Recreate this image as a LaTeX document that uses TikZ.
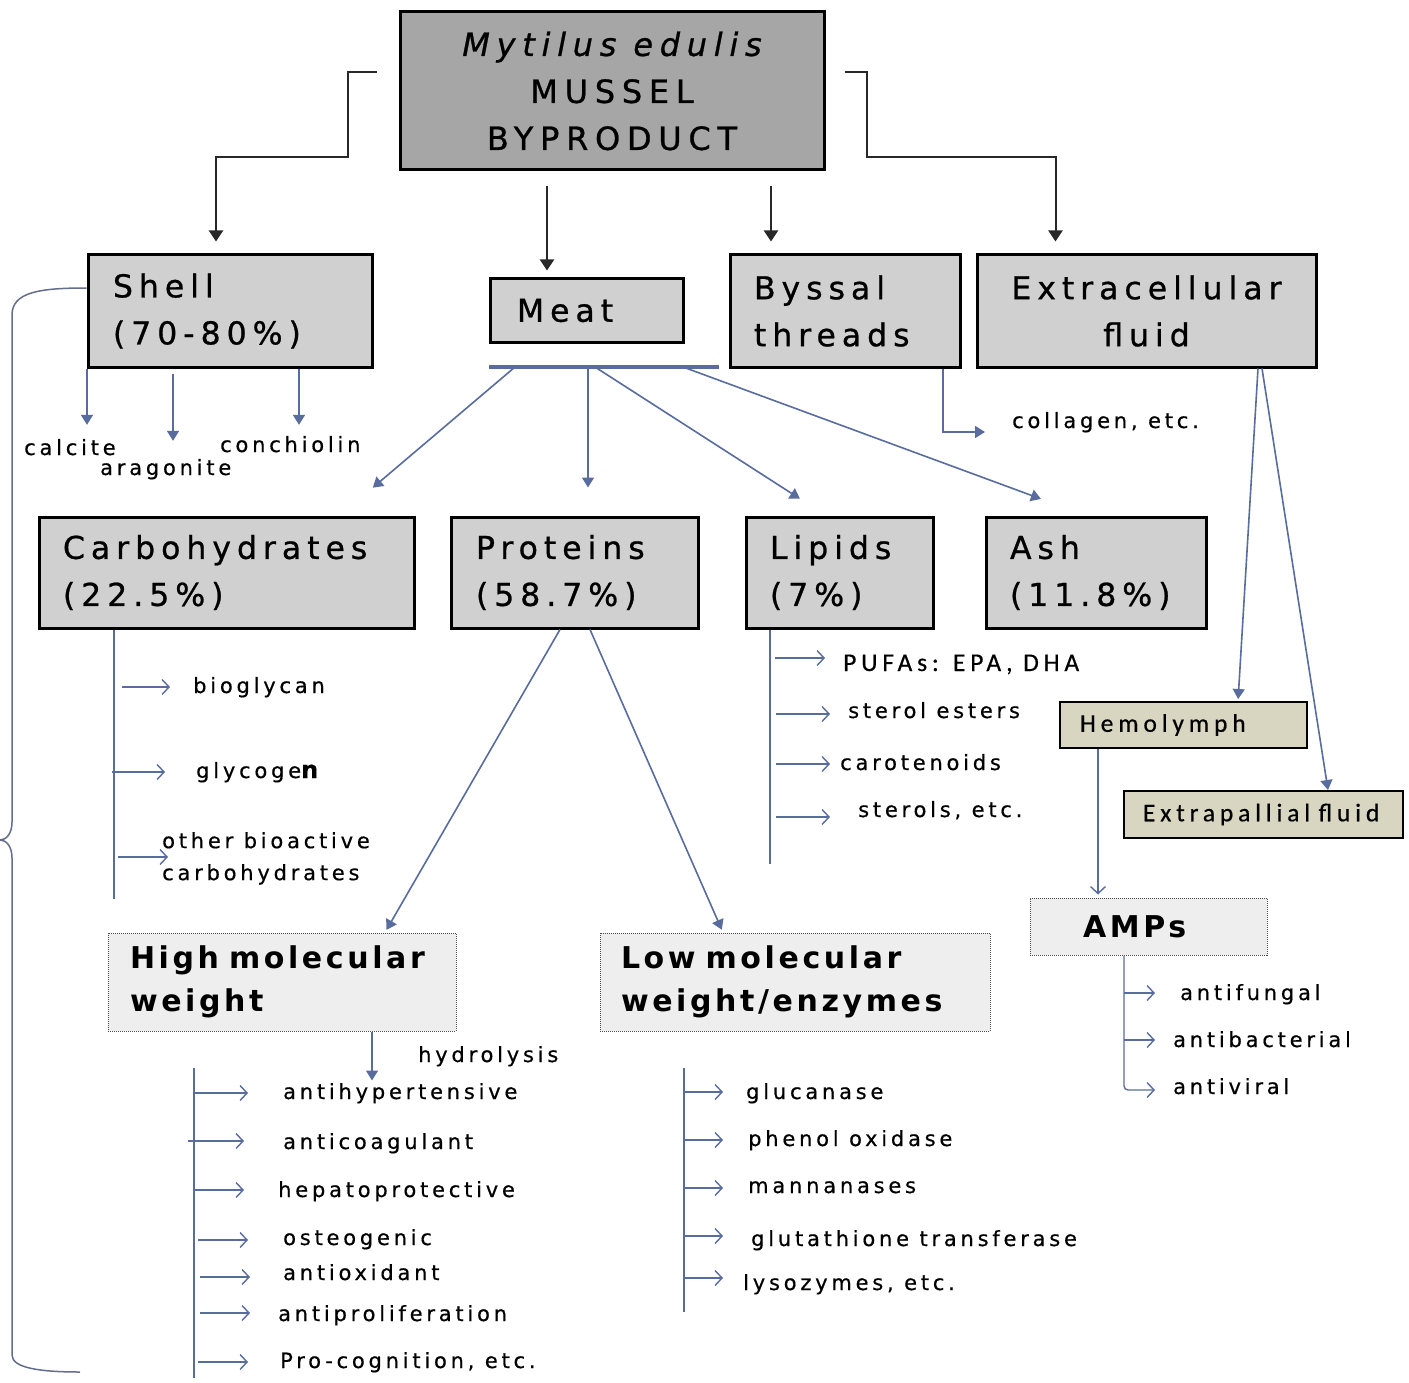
\documentclass[tikz,border=0pt]{standalone}
\usepackage{fontspec}
\setmainfont{DejaVu Sans}
\newfontfamily\ftop{DejaVu Sans}[LetterSpace=21,FakeBold=0.8]
\newfontfamily\ftitle{DejaVu Sans}[LetterSpace=19,FakeBold=0.8]
\newfontfamily\fitem{DejaVu Sans}[LetterSpace=18,FakeBold=0.5]
\newfontfamily\fbold{DejaVu Sans}[LetterSpace=12]
\newfontfamily\fcal{Carlito}[LetterSpace=19,FakeBold=0.5]
\usetikzlibrary{arrows.meta}

\definecolor{topgray}{RGB}{166,166,166}
\definecolor{boxgray}{RGB}{208,208,208}
\definecolor{khaki}{RGB}{216,214,192}
\definecolor{palegray}{RGB}{238,238,238}
\definecolor{linkblue}{RGB}{88,108,158}
\definecolor{darkline}{RGB}{40,40,40}
\definecolor{bracecol}{RGB}{100,110,140}

\newcommand\nobreakwords{\hyphenpenalty=10000 \exhyphenpenalty=10000 }
% short arrow from a list spine to an item label
\newcommand\itemarrow[4]{\draw[larr] ([xshift=#2pt,yshift=#4pt]#1.base west) -- ([xshift=#3pt,yshift=#4pt]#1.base west);}

\tikzset{
  every node/.style={inner sep=0pt},
  titlebox/.style={draw=black, line width=3pt, fill=boxgray, inner ysep=0pt,
    font={\ftitle\fontsize{31.5}{47}\selectfont\nobreakwords}},
  dotbox/.style={draw=black!70, line width=1pt, densely dotted, fill=palegray, inner ysep=0pt,
    font={\fbold\bfseries\fontsize{30}{43}\selectfont\nobreakwords}},
  fluidbox/.style={draw=black, line width=2pt, fill=khaki, inner ysep=0pt,
    font={\fcal\fontsize{25.5}{28}\selectfont\nobreakwords}},
  item/.style={anchor=base west, font={\fitem\fontsize{21}{32}\selectfont}},
  barrow/.style={draw=darkline, line width=2pt, -{Triangle[length=11pt,width=14pt]}},
  farr/.style={draw=linkblue, line width=1.6pt, -{Triangle[length=10pt,width=12pt]}},
  larr/.style={draw=linkblue, line width=1.4pt, -{Straight Barb[length=7pt,width=15pt]}},
  spine/.style={draw=linkblue, line width=1.6pt},
}

\begin{document}
\begin{tikzpicture}[x=1pt,y=-1pt]
\fill[white] (0,0) rectangle (1409,1383);
\useasboundingbox (0,0) rectangle (1409,1383);

% ---------- main boxes ----------
\node[titlebox, fill=topgray, minimum width=424pt, minimum height=158pt, align=center,
      font={\ftop\fontsize{32}{47}\selectfont}] (top) at (612,91)
      {{\itshape Mytilus edulis}\\MUSSEL\\BYPRODUCT};

\node[titlebox, minimum height=112pt, text width=234pt, inner xsep=25pt, align=left] (shell) at (230,311) {Shell\\(70-80\%)};
\node[titlebox, minimum height=63pt, text width=139pt, inner xsep=27pt, align=left] (meat) at (586.5,310.5) {Meat};
\node[titlebox, minimum height=112pt, text width=182pt, inner xsep=24pt, align=left] (byssal) at (845,311) {Byssal\\threads};
\node[titlebox, minimum height=112pt, minimum width=339pt, align=center] (extra) at (1146.5,311) {Extracellular\\fluid};

\node[titlebox, minimum height=111pt, text width=327pt, inner xsep=24pt, align=left] (carb) at (226.5,572.5) {Carbohydrates\\(22.5\%)};
\node[titlebox, minimum height=111pt, text width=197pt, inner xsep=25pt, align=left] (prot) at (574.5,572.5) {Proteins\\(58.7\%)};
\node[titlebox, minimum height=111pt, text width=139pt, inner xsep=24pt, align=left] (lip) at (839.5,572.5) {Lipids\\(7\%)};
\node[titlebox, minimum height=111pt, text width=172pt, inner xsep=24pt, align=left] (ash) at (1096,572.5) {Ash\\(11.8\%)};

\node[dotbox, minimum height=98pt, text width=304pt, inner xsep=22pt, align=left] (hmw) at (282,982) {High molecular\\weight};
\node[dotbox, minimum height=98pt, text width=348pt, inner xsep=21pt, align=left] (lmw) at (795,982) {Low molecular\\weight/enzymes};
\node[dotbox, minimum height=57pt, text width=131pt, inner xsep=53pt, align=left] (amps) at (1148.5,926.5) {AMPs};

\node[fluidbox, minimum height=46pt, text width=207pt, inner xsep=20pt, align=left] (hemo) at (1183.5,725) {Hemolymph};
\node[fluidbox, minimum height=47pt, text width=241pt, inner xsep=19pt, align=left] (extrap) at (1263.5,814.5) {\mbox{Extrapallial\ fluid}};

% ---------- black links from the byproduct ----------
\draw[barrow, shorten >=12pt] ([xshift=-22pt,yshift=19pt]top.west) -- ++(-29,0) -- ++(0,85) -| ([xshift=-14pt]shell.north);
\draw[barrow, shorten >=12pt] ([xshift=19pt,yshift=19pt]top.east) -- ++(22,0) -- ++(0,85) -| ([xshift=-91pt]extra.north);
\draw[barrow, shorten <=15pt, shorten >=7pt] ([xshift=-65pt]top.south) -- ([xshift=-39.5pt]meat.north);
\draw[barrow, shorten <=15pt, shorten >=12pt] ([xshift=159pt]top.south) -- ([xshift=-74pt]byssal.north);

% ---------- shell components ----------
\node[item] (calcite) at (24,455) {calcite};
\node[item] (aragonite) at (100,475) {aragonite};
\node[item] (conchiolin) at (220,452) {conchiolin};
\draw[farr, shorten >=14pt] ([xshift=-143pt]shell.south) -- ([xshift=-143pt]shell.south |- calcite.north);
\draw[farr, shorten <=5pt, shorten >=18pt] ([xshift=-57pt]shell.south) -- ([xshift=-57pt]shell.south |- aragonite.north);
\draw[farr, shorten >=11pt] ([xshift=69pt]shell.south) -- ([xshift=69pt]shell.south |- conchiolin.north);

% bracket grouping everything under the shell
\draw[draw=bracecol, line width=1.5pt] ([yshift=23pt]shell.west)
  .. controls (40,288) and (12,292) .. (12,315) -- (12,822)
  .. controls (12,834) and (6,840) .. (0,840)
  .. controls (6,840) and (12,846) .. (12,858) -- (12,1355)
  .. controls (12,1368) and (40,1372) .. (80,1372);

% ---------- byssal threads ----------
\node[item] (collagen) at (1012,428) {collagen, etc.};
\draw[farr, shorten >=27pt] ([xshift=98pt]byssal.south) |- ([yshift=-4pt]collagen.base west);

% ---------- meat fractions ----------
\coordinate (barL) at (489,367);
\coordinate (barR) at (719,367);
\draw[draw=linkblue, line width=3.5pt] (barL) -- (barR);
\coordinate (bA) at (515,367);
\coordinate (bB) at (588,367);
\coordinate (bC) at (595,367);
\coordinate (bD) at (683,367);
\draw[farr, shorten >=43pt] (bA) -- ([xshift=113.5pt]carb.north);
\draw[farr, shorten >=28pt] (bB) -- ([xshift=13.5pt]prot.north);
\draw[farr, shorten >=31pt] (bC) -- ([xshift=-13.5pt]lip.north);
\draw[farr, shorten >=48pt] (bD) -- ([xshift=-10pt]ash.north);

% carbohydrates
\draw[spine] ([xshift=-112.5pt]carb.south) -- ++(0,269);
\node[item] (bioglycan) at (193,693) {bioglycan};
\node[item] (glycogen) at (196,778) {glycoge{\fontsize{24}{32}\selectfont\bfseries n}};
\node[item, anchor=north west, align=left] (otherbio) at (162,832) {other bioactive\\carbohydrates};
\itemarrow{bioglycan}{-71}{-23}{6}
\itemarrow{glycogen}{-84}{-31}{6}
\draw[larr] ([xshift=-44pt,yshift=-25pt]otherbio.north west) -- ([xshift=6pt,yshift=-25pt]otherbio.north west);

% lipids
\draw[spine] ([xshift=-69.5pt]lip.south) -- ++(0,234);
\node[item, font={\fcal\fontsize{25.5}{28}\selectfont}] (pufa) at (843,671) {PUFAs: EPA, DHA};
\node[item] (sterolest) at (848,718) {sterol esters};
\node[item] (carot) at (840,770) {carotenoids};
\node[item] (sterols) at (858,817) {sterols, etc.};
\itemarrow{pufa}{-68}{-18}{13}
\itemarrow{sterolest}{-72}{-18}{4}
\itemarrow{carot}{-64}{-10}{6}
\itemarrow{sterols}{-82}{-28}{0}

% proteins
\draw[farr, shorten >=3pt] ([xshift=-14.5pt]prot.south) -- ([xshift=103pt]hmw.north);
\draw[farr, shorten >=3pt] ([xshift=15.5pt]prot.south) -- ([xshift=-72pt]lmw.north);

% high molecular weight
\draw[farr] ([xshift=90pt]hmw.south) -- ++(0,49);
\node[item] (hydro) at (418,1062) {hydrolysis};
\draw[spine] (194,1068) -- (194,1378);
\node[item] (h1) at (283,1099) {antihypertensive};
\node[item] (h2) at (283,1149) {anticoagulant};
\node[item] (h3) at (278,1197) {hepatoprotective};
\node[item] (h4) at (283,1245) {osteogenic};
\node[item] (h5) at (283,1280) {antioxidant};
\node[item] (h6) at (278,1321) {antiproliferation};
\node[item] (h7) at (280,1368) {Pro-cognition, etc.};
\itemarrow{h1}{-89}{-35}{6}
\itemarrow{h2}{-95}{-39}{8}
\itemarrow{h3}{-84}{-34}{7}
\itemarrow{h4}{-85}{-35}{5}
\itemarrow{h5}{-83}{-33}{3}
\itemarrow{h6}{-78}{-28}{8}
\itemarrow{h7}{-82}{-32}{6}

% low molecular weight
\draw[spine] (684,1068) -- (684,1312);
\node[item] (l1) at (746,1099) {glucanase};
\node[item] (l2) at (748,1146) {phenol oxidase};
\node[item] (l3) at (748,1193) {mannanases};
\node[item] (l4) at (751,1246) {glutathione transferase};
\node[item] (l5) at (743,1290) {lysozymes, etc.};
\itemarrow{l1}{-62}{-23}{7}
\itemarrow{l2}{-64}{-25}{6}
\itemarrow{l3}{-64}{-25}{5}
\itemarrow{l4}{-67}{-28}{10}
\itemarrow{l5}{-59}{-20}{12}

% ---------- extracellular fluid ----------
\draw[farr, shorten >=2pt] ([xshift=111.5pt]extra.south) -- ([xshift=54.5pt]hemo.north);
\draw[farr] ([xshift=115.5pt]extra.south) -- ([xshift=64.5pt]extrap.north);
\draw[larr, shorten >=3pt] ([xshift=-85.5pt]hemo.south) -- ([xshift=-50.5pt]amps.north);

\node[item] (a1) at (1180,1000) {antifungal};
\node[item] (a2) at (1173,1047) {antibacterial};
\node[item] (a3) at (1173,1094) {antiviral};
\draw[larr, rounded corners=4pt] ([xshift=-24.5pt]amps.south) |- ([xshift=-18pt,yshift=4pt]a3.base west);
\itemarrow{a1}{-56}{-25}{7}
\itemarrow{a2}{-49}{-18}{7}
\end{tikzpicture}
\end{document}
